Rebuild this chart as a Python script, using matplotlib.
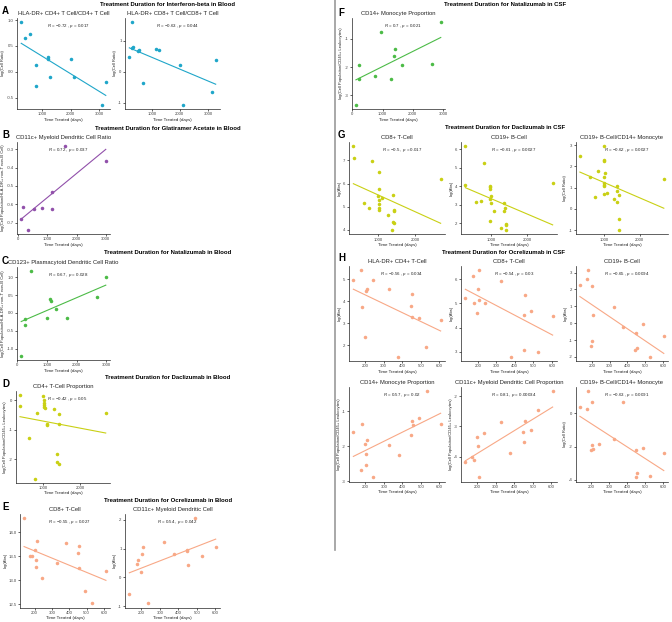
import numpy as np
import matplotlib
matplotlib.use("Agg")
import matplotlib.pyplot as plt
from matplotlib.ticker import MultipleLocator, FormatStrFormatter
from matplotlib.lines import Line2D

plt.rcParams['font.family'] = ['Liberation Sans', 'DejaVu Sans']
plt.rcParams['mathtext.fontset'] = 'custom'
plt.rcParams['mathtext.it'] = 'Liberation Sans:italic'
plt.rcParams['mathtext.rm'] = 'Liberation Sans'
plt.rcParams['axes.unicode_minus'] = False

# ---------------- data ----------------
A1_days = [275, 393, 596, 775, 775, 1204, 1215, 1286, 2011, 2107, 3225, 3096]
A1_vals = [0.96, 0.65, 0.74, 0.13, -0.27, 0.28, 0.25, -0.11, 0.24, -0.10, -0.19, -0.64]
A2_days = [311, 336, 300, 204, 525, 540, 704, 1168, 1264, 2000, 3132, 3275, 2121]
A2_vals = [1.59, 0.78, 0.75, 0.48, 0.68, 0.70, -0.36, 0.73, 0.70, 0.22, -0.65, 0.39, -1.06]
B_days = [1603, 3007, 1150, 164, 533, 801, 1150, 96, 317]
B_vals = [-0.282, -0.364, -0.532, -0.614, -0.627, -0.619, -0.627, -0.681, -0.74]
C_days = [455, 2979, 2695, 1096, 1119, 1301, 240, 250, 1003, 1678, 127]
C_vals = [1.17, 1.01, 0.44, 0.39, 0.34, 0.12, -0.17, -0.33, -0.15, -0.13, -1.2]
D_days = [391, 391, 1016, 1030, 1040, 1045, 1035, 1050, 1295, 1445, 855, 2680,
          1107, 1120, 1429, 641, 1383, 1391, 1429, 794]
D_vals = [0.17, -0.19, 0.14, 0.0, -0.08, -0.15, -0.22, -0.28, -0.29, -0.46, -0.44, -0.44,
          -0.81, -0.83, -0.81, -1.30, -1.84, -2.11, -2.18, -2.66]
E1_days = [139, 214, 202, 175, 185, 208, 208, 243, 332, 384, 455, 453, 459, 492, 534, 612]
E1_vals = [14.29, 13.82, 13.63, 13.51, 13.51, 13.43, 13.27, 13.05, 13.35, 13.77, 13.72,
           13.57, 13.26, 12.77, 12.52, 13.20]
E2_days = [135, 174, 181, 198, 205, 211, 238, 325, 376, 446, 448, 453, 488, 526, 602]
E2_vals = [-0.58, 0.48, 0.62, 0.18, 0.80, 1.05, -0.91, 1.24, 0.81, 0.96, 0.91, 0.43, 2.06, 0.76, 1.06]
F_days = [2923, 960, 1396, 1385, 218, 1647, 2650, 207, 752, 1276, 120]
F_vals = [-0.42, -0.77, -1.38, -1.62, -1.93, -1.93, -1.91, -2.43, -2.30, -2.43, -3.33]
G1_days = [318, 327, 827, 1018, 1018, 982, 1018, 1091, 1018, 1018, 1018, 609, 755, 1391,
           1273, 1418, 1436, 1391, 1418, 1382, 2691]
G1_vals = [7.63, 7.10, 6.96, 6.52, 5.76, 5.46, 5.28, 5.36, 5.11, 4.96, 4.86, 5.17, 4.96, 5.52,
           4.66, 4.82, 4.86, 4.35, 4.31, 3.99, 6.20]
G2_days = [303, 303, 587, 743, 817, 972, 991, 982, 1009, 1000, 991, 1083, 991, 1275, 1358,
           1385, 1358, 1431, 1413, 1404, 2697]
G2_vals = [6.18, 4.09, 3.18, 3.22, 5.27, 3.98, 4.04, 3.85, 3.47, 3.11, 3.31, 2.67, 2.11, 1.75,
           3.09, 2.85, 2.65, 1.95, 1.89, 1.64, 4.16]
G3_days = [306, 593, 815, 741, 991, 981, 1000, 1009, 1000, 1000, 1000, 1000, 1000, 1083, 1259,
           1361, 1370, 1370, 1417, 1407, 1407, 2685]
G3_vals = [2.48, 1.50, 1.80, 0.55, 2.97, 2.32, 2.24, 1.69, 1.50, 1.23, 1.15, 1.10, 0.71, 0.75,
           0.47, 1.07, 0.83, 0.31, 0.64, -0.48, -1.0, 1.42]
H1_days = [137, 178, 241, 327, 209, 205, 455, 449, 451, 489, 607, 186, 200, 379, 528]
H1_vals = [4.96, 5.43, 4.97, 4.57, 4.54, 4.45, 4.31, 3.78, 3.27, 3.22, 3.15, 3.73, 2.35, 1.47, 1.89]
H2_days = [175, 209, 202, 326, 454, 180, 196, 238, 449, 490, 605, 378, 449, 528, 133, 205]
H2_vals = [6.11, 6.38, 5.59, 5.90, 5.36, 5.01, 4.61, 5.01, 4.51, 4.69, 4.47, 2.80, 3.09, 3.00,
           5.22, 5.14]
H3_days = [180, 171, 132, 200, 204, 325, 377, 488, 447, 193, 198, 453, 445, 526, 606]
H3_vals = [3.16, 2.61, 2.26, 2.22, 0.49, 0.96, -0.25, -0.02, -0.59, -1.35, -1.06, -1.47, -1.61,
           -1.98, -0.76]
H4_days = [532, 489, 452, 455, 607, 183, 135, 209, 196, 204, 329, 381, 449, 176, 204, 239]
H4_vals = [-0.42, -1.19, -1.28, -1.40, -1.35, -1.37, -1.59, -1.83, -1.94, -2.21, -1.97, -2.26,
           -1.67, -2.69, -2.53, -2.89]
H5_days = [607, 529, 328, 456, 490, 449, 451, 238, 200, 204, 379, 173, 182, 136, 207]
H5_vals = [-1.83, -2.46, -2.85, -2.81, -3.10, -3.18, -3.51, -3.21, -3.34, -3.63, -3.86, -4.01,
           -4.10, -4.16, -4.68]
H6_days = [184, 202, 136, 174, 379, 204, 242, 200, 207, 326, 450, 487, 605, 452, 455, 529]
H6_vals = [1.35, 0.66, 0.36, 0.26, 0.69, -1.90, -1.84, -2.20, -2.14, -1.54, -2.18, -2.06, -2.40,
           -3.86, -3.59, -3.77]

STATS = {
    'A1': ('-0.72', '0.017'), 'A2': ('-0.63', '0.044'), 'B': ('0.72', '0.037'),
    'C': ('0.67', '0.028'), 'D': ('-0.42', '0.05'), 'E1': ('-0.55', '0.027'),
    'E2': ('0.54', '0.042'), 'F': ('0.7', '0.021'), 'G1': ('-0.5', '0.017'),
    'G2': ('-0.61', '0.0027'), 'G3': ('-0.62', '0.0027'), 'H1': ('-0.56', '0.034'),
    'H2': ('-0.54', '0.03'), 'H3': ('-0.65', '0.0094'), 'H4': ('0.57', '0.02'),
    'H5': ('0.81', '0.00034'), 'H6': ('-0.63', '0.0091'),
}

TEAL = '#1FA6C9'
PURPLE = '#9150AA'
GREEN = '#4CBB47'
YELLOW = '#C9D014'
SALMON = '#F8A886'

YL_RATIO = 'log(Cell Ratio)'
YL_HLA = 'log(Cell Population/HLA-DR+ non-T non-B Cell)'
YL_CD45 = 'log(Cell Population/CD45+ Leukocytes)'
YL_ABS = 'log(Abs)'

W, H = 672, 622
fig = plt.figure(figsize=(W / 100, H / 100), dpi=100)


def px_axes(x0, y0, x1, y1):
    return fig.add_axes([x0 / W, 1 - y1 / H, (x1 - x0) / W, (y1 - y0) / H])


def ftext(x, y, s, **kw):
    fig.text(x / W, 1 - y / H, s, **kw)


def stat_label(key):
    r, p = STATS[key]
    r = r.replace('-', '\u2212')
    return r'$\mathit{R}$ = ' + r + r' , $\mathit{p}$ = ' + p


def panel(box, key, days, vals, color, subtitle, ylabel, xstep, ystep, yfmt):
    ax = px_axes(*box)
    x = np.asarray(days, float)
    y = np.asarray(vals, float)
    ax.scatter(x, y, s=6.5, color=color, linewidths=0, zorder=3)
    k, b = np.polyfit(x, y, 1)
    xs = np.array([x.min(), x.max()])
    ax.plot(xs, k * xs + b, color=color, lw=0.8, zorder=2)
    ax.margins(0.05)
    for s in ['top', 'right']:
        ax.spines[s].set_visible(False)
    for s in ['left', 'bottom']:
        ax.spines[s].set_linewidth(0.5)
        ax.spines[s].set_color('#222222')
    ax.xaxis.set_major_locator(MultipleLocator(xstep))
    ax.yaxis.set_major_locator(MultipleLocator(ystep))
    ax.yaxis.set_major_formatter(FormatStrFormatter(yfmt))
    ax.xaxis.set_major_formatter(FormatStrFormatter('%d'))
    ax.tick_params(labelsize=3.1, length=1.5, width=0.5, pad=1, colors='#222222',
                   labelcolor='#444444')
    ax.set_title(subtitle, fontsize=4.2, pad=2.0, color='#222222')
    ax.text(0.55, 0.915, stat_label(key), transform=ax.transAxes, ha='center',
            va='center', fontsize=3.2, color='#222222')
    ax.set_xlabel('Time Treated (days)', fontsize=3.2, labelpad=0.8, color='#222222')
    ax.set_ylabel(ylabel, fontsize=3.0, labelpad=0.8, color='#222222')
    return ax


# ---------------- left column ----------------
ftext(168, 5, 'Treatment Duration for Interferon-beta in Blood', ha='center', va='center',
      fontsize=4.3, fontweight='bold')
ftext(2, 11.5, 'A', ha='left', va='center', fontsize=7, fontweight='bold')
panel((17, 18, 110, 109), 'A1', A1_days, A1_vals, TEAL, 'HLA-DR+ CD4+ T Cell/CD4+ T Cell',
      YL_RATIO, 1000, 0.5, '%.1f')
panel((125, 18, 220, 109), 'A2', A2_days, A2_vals, TEAL, 'HLA-DR+ CD8+ T Cell/CD8+ T Cell',
      YL_RATIO, 1000, 1, '%d')

ftext(168, 128.3, 'Treatment Duration for Glatiramer Acetate in Blood', ha='center',
      va='center', fontsize=4.3, fontweight='bold')
ftext(2, 135, 'B', ha='left', va='center', fontsize=7, fontweight='bold')
panel((17, 142, 110, 234), 'B', B_days, B_vals, PURPLE, 'CD11c+ Myeloid Dendritic Cell Ratio',
      YL_HLA, 1000, 0.1, '%.1f')

ftext(168, 252.7, 'Treatment Duration for Natalizumab in Blood', ha='center', va='center',
      fontsize=4.3, fontweight='bold')
ftext(2, 261, 'C', ha='left', va='center', fontsize=7, fontweight='bold')
panel((17, 267, 110, 360), 'C', C_days, C_vals, GREEN, 'CD123+ Plasmacytoid Dendritic Cell Ratio',
      YL_HLA, 1000, 0.5, '%.1f')

ftext(168, 377.7, 'Treatment Duration for Daclizumab in Blood', ha='center', va='center',
      fontsize=4.3, fontweight='bold')
ftext(2, 384, 'D', ha='left', va='center', fontsize=7, fontweight='bold')
panel((15.7, 391, 110, 482.7), 'D', D_days, D_vals, YELLOW, 'CD4+ T-Cell Proportion',
      YL_CD45, 1000, 1, '%d')

ftext(168, 500.7, 'Treatment Duration for Ocrelizumab in Blood', ha='center', va='center',
      fontsize=4.3, fontweight='bold')
ftext(2, 507, 'E', ha='left', va='center', fontsize=7, fontweight='bold')
panel((20, 514, 110, 607.7), 'E1', E1_days, E1_vals, SALMON, 'CD8+ T-Cell',
      YL_ABS, 100, 0.5, '%.1f')
panel((125, 514, 220, 607.7), 'E2', E2_days, E2_vals, SALMON, 'CD11c+ Myeloid Dendritic Cell',
      YL_ABS, 100, 1, '%d')

# ---------------- right column ----------------
ftext(505, 4.3, 'Treatment Duration for Natalizumab in CSF', ha='center', va='center',
      fontsize=4.3, fontweight='bold')
ftext(338, 13, 'F', ha='left', va='center', fontsize=7, fontweight='bold')
panel((351.7, 18, 445, 109), 'F', F_days, F_vals, GREEN, 'CD14+ Monocyte Proportion',
      YL_CD45, 1000, 1, '%d')

ftext(505, 127.7, 'Treatment Duration for Daclizumab in CSF', ha='center', va='center',
      fontsize=4.3, fontweight='bold')
ftext(338, 135, 'G', ha='left', va='center', fontsize=7, fontweight='bold')
panel((349, 141.7, 445, 234.3), 'G1', G1_days, G1_vals, YELLOW, 'CD8+ T-Cell',
      YL_ABS, 1000, 1, '%d')
panel((461, 141.7, 557, 234.3), 'G2', G2_days, G2_vals, YELLOW, 'CD19+ B-Cell',
      YL_ABS, 1000, 1, '%d')
panel((575.7, 141.7, 668, 234.3), 'G3', G3_days, G3_vals, YELLOW, 'CD19+ B-Cell/CD14+ Monocyte',
      YL_RATIO, 1000, 1, '%d')

ftext(503, 252.7, 'Treatment Duration for Ocrelizumab in CSF', ha='center', va='center',
      fontsize=4.3, fontweight='bold')
ftext(338, 258, 'H', ha='left', va='center', fontsize=7, fontweight='bold')
panel((349, 265.5, 445, 361), 'H1', H1_days, H1_vals, SALMON, 'HLA-DR+ CD4+ T-Cell',
      YL_ABS, 100, 1, '%d')
panel((461, 265.5, 557, 361), 'H2', H2_days, H2_vals, SALMON, 'CD8+ T-Cell',
      YL_ABS, 100, 1, '%d')
panel((575.7, 265.5, 668, 361), 'H3', H3_days, H3_vals, SALMON, 'CD19+ B-Cell',
      YL_ABS, 100, 1, '%d')
panel((349, 386.7, 445, 481.7), 'H4', H4_days, H4_vals, SALMON, 'CD14+ Monocyte Proportion',
      YL_CD45, 100, 1, '%d')
panel((461, 386.7, 557, 481.7), 'H5', H5_days, H5_vals, SALMON,
      'CD11c+ Myeloid Dendritic Cell Proportion', YL_CD45, 100, 1, '%d')
panel((575.7, 386.7, 668, 481.7), 'H6', H6_days, H6_vals, SALMON, 'CD19+ B-Cell/CD14+ Monocyte',
      YL_RATIO, 100, 2, '%d')

# divider
fig.add_artist(Line2D([335 / W, 335 / W], [1, 1 - 550 / H], color='#9A9A9A', lw=1.2))

fig.savefig('out.png', dpi=100)
